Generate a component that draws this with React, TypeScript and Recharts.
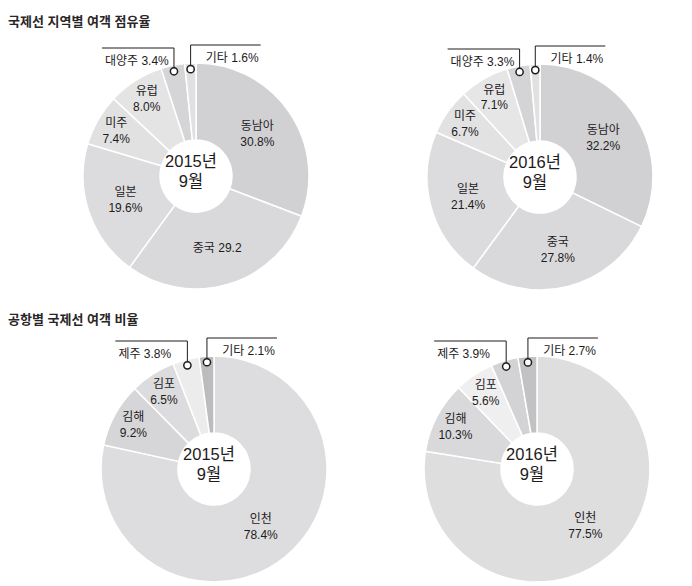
import { Cell, Pie, PieChart } from "recharts";

const REGION_NAMES = ["동남아", "중국", "일본", "미주", "유럽", "대양주", "기타"];
const REGION_2015 = [30.8, 29.2, 19.6, 7.4, 8.0, 3.4, 1.6];
const REGION_2016 = [32.2, 27.8, 21.4, 6.7, 7.1, 3.3, 1.4];

const AIRPORT_NAMES = ["인천", "김해", "김포", "제주", "기타"];
const AIRPORT_2015 = [78.4, 9.2, 6.5, 3.8, 2.1];
const AIRPORT_2016 = [77.5, 10.3, 5.6, 3.9, 2.7];

const YEARS = ["2015년", "2016년"];
const MONTH = "9월";
const TITLES = ["국제선 지역별 여객 점유율", "공항별 국제선 여객 비율"];

const INK = "#1e1b1c";
const FONT = "'Liberation Sans', 'Noto Sans CJK KR', sans-serif";
const RAD = Math.PI / 180;

type Side = "left" | "right";

interface DonutProps {
    names: string[];
    values: number[];
    colors: string[];
    callouts: Record<string, Side>;
    inline?: Record<string, string>;
    year: string;
    left: number;
    top: number;
    cx: number;
    cy: number;
}

const W = 346;
const H = 293;
const OUTER = 113;
const INNER = 36;

const Donut = ({ names, values, colors, callouts, inline = {}, year, left, top, cx, cy }: DonutProps) => {
    const data = names.map((name, i) => ({ name, value: values[i] }));

    const renderLabel = (props: any) => {
        const { cx: x0, cy: y0, midAngle, outerRadius, index } = props;
        const name = names[index];
        const value = values[index];
        const side = callouts[name];
        const cos = Math.cos(-midAngle * RAD);
        const sin = Math.sin(-midAngle * RAD);

        // small slices get a pin + elbow line callout above the donut
        if (side) {
            const r = outerRadius - 6;
            const x = x0 + r * cos;
            const y = y0 + r * sin;
            const lineY = y0 - outerRadius - (side === "left" ? 15 : 18);
            const endX = side === "left" ? x - 72 : x + 70;
            return (
                <g key={`c-${index}`}>
                    <polyline
                        points={`${x},${y - 3.5} ${x},${lineY} ${endX},${lineY}`}
                        fill="none"
                        stroke={INK}
                        strokeWidth={1}
                    />
                    <circle cx={x} cy={y} r={3.6} fill="#fff" stroke={INK} strokeWidth={1.5} />
                    <text
                        x={side === "left" ? endX + 3 : endX - 2}
                        y={lineY + 17}
                        textAnchor={side === "left" ? "start" : "end"}
                        fontSize={12}
                        fill={INK}
                        fontFamily={FONT}
                    >
                        {`${name} ${value.toFixed(1)}%`}
                    </text>
                </g>
            );
        }

        const r = value < 11 ? outerRadius - 21 : (outerRadius + INNER) / 2;
        const x = x0 + r * cos;
        const y = y0 + r * sin;
        const single = inline[name];
        return (
            <text
                key={`l-${index}`}
                x={x}
                y={y}
                textAnchor="middle"
                fontSize={12}
                fill={INK}
                fontFamily={FONT}
            >
                {single ? (
                    <tspan x={x} dy="0.35em">
                        {single}
                    </tspan>
                ) : (
                    <>
                        <tspan x={x} dy="-0.3em">
                            {name}
                        </tspan>
                        <tspan x={x} dy="1.33em">
                            {`${value.toFixed(1)}%`}
                        </tspan>
                    </>
                )}
            </text>
        );
    };

    return (
        <div style={{ position: "absolute", left, top, width: W, height: H }}>
            <PieChart width={W} height={H}>
                <Pie
                    data={data}
                    dataKey="value"
                    nameKey="name"
                    cx={cx}
                    cy={cy}
                    innerRadius={INNER}
                    outerRadius={OUTER}
                    startAngle={90}
                    endAngle={-270}
                    stroke="#fff"
                    strokeWidth={1.5}
                    label={renderLabel}
                    labelLine={false}
                    isAnimationActive={false}
                >
                    {data.map((_, i) => (
                        <Cell key={`cell-${i}`} fill={colors[i]} />
                    ))}
                </Pie>
            </PieChart>
            <div
                style={{
                    position: "absolute",
                    left: cx - 40,
                    top: cy - 20,
                    width: 80,
                    textAlign: "center",
                    fontFamily: FONT,
                    fontSize: 16.5,
                    lineHeight: "20px",
                    color: INK,
                }}
            >
                <div>{year}</div>
                <div>{MONTH}</div>
            </div>
        </div>
    );
};

const titleStyle = (top: number): React.CSSProperties => ({
    position: "absolute",
    left: 8,
    top,
    fontFamily: FONT,
    fontSize: 13,
    fontWeight: 700,
    color: "#2a2627",
    whiteSpace: "nowrap",
});

export default function App() {
    return (
        <div
            style={{
                position: "absolute",
                left: 0,
                top: 0,
                width: 692,
                height: 586,
                background: "#fff",
                overflow: "hidden",
            }}
        >
            <div style={titleStyle(11)}>{TITLES[0]}</div>
            <div style={titleStyle(309)}>{TITLES[1]}</div>

            <Donut
                names={REGION_NAMES}
                values={REGION_2015}
                colors={["#d1d1d3", "#d9d9db", "#dcdcde", "#e1e1e2", "#e4e4e5", "#d5d5d7", "#e0e0e1"]}
                callouts={{ 대양주: "left", 기타: "right" }}
                inline={{ 중국: "중국 29.2" }}
                year={YEARS[0]}
                left={0}
                top={0}
                cx={191}
                cy={171}
            />
            <Donut
                names={REGION_NAMES}
                values={REGION_2016}
                colors={["#d1d1d3", "#d9d9db", "#dcdcde", "#e2e2e3", "#e6e6e7", "#d4d4d6", "#e1e1e2"]}
                callouts={{ 대양주: "left", 기타: "right" }}
                year={YEARS[1]}
                left={346}
                top={0}
                cx={189}
                cy={172}
            />
            <Donut
                names={AIRPORT_NAMES}
                values={AIRPORT_2015}
                colors={["#dddddf", "#d6d6d8", "#dcdcde", "#ececed", "#bcbcbe"]}
                callouts={{ 제주: "left", 기타: "right" }}
                year={YEARS[0]}
                left={0}
                top={293}
                cx={209}
                cy={171}
            />
            <Donut
                names={AIRPORT_NAMES}
                values={AIRPORT_2016}
                colors={["#dededf", "#d9d9db", "#efeff0", "#d3d3d5", "#c2c2c4"]}
                callouts={{ 제주: "left", 기타: "right" }}
                year={YEARS[1]}
                left={346}
                top={293}
                cx={186}
                cy={171}
            />
        </div>
    );
}
